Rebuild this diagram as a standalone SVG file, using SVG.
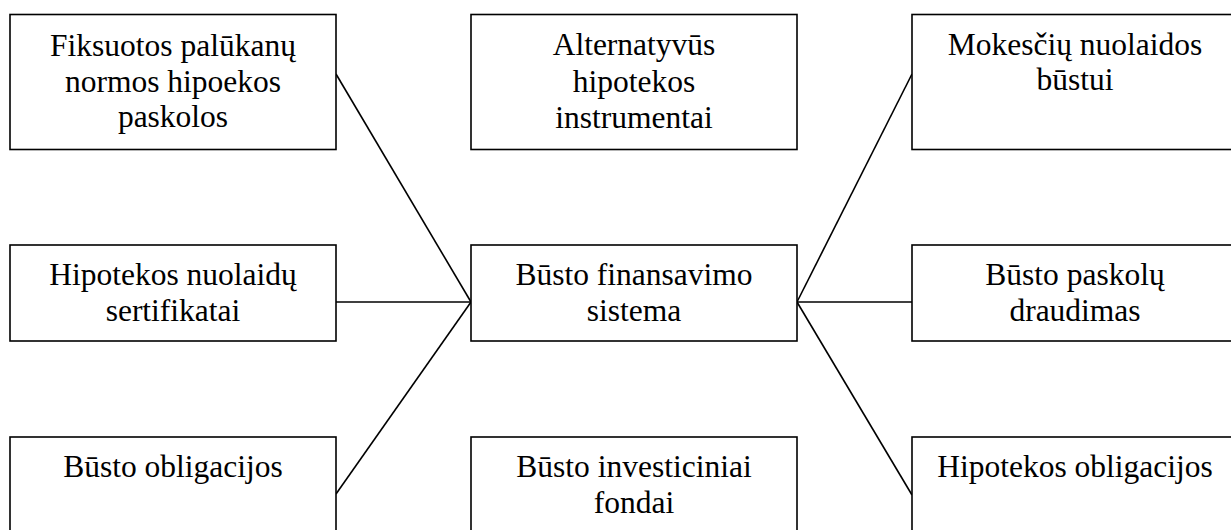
<svg xmlns="http://www.w3.org/2000/svg" width="1231" height="530" viewBox="0 0 1231 530">
<style>
.box{fill:#fff;stroke:#000;stroke-width:1.6}
.t{font-family:"Liberation Serif","Times New Roman",serif;font-size:31.5px;fill:#000;text-anchor:middle}
.c{stroke:#000;stroke-width:1.6;fill:none}
</style>
<rect width="1231" height="530" fill="#fff"/>
<g id="connectors">
<line class="c" x1="336" y1="74" x2="471" y2="302"/>
<line class="c" x1="336" y1="302" x2="471" y2="302"/>
<line class="c" x1="336" y1="494" x2="471" y2="302"/>
<line class="c" x1="797" y1="302" x2="912" y2="74"/>
<line class="c" x1="797" y1="302" x2="912" y2="302"/>
<line class="c" x1="797" y1="302" x2="912" y2="495"/>
</g>
<g id="n1"><rect class="box" x="10" y="14.5" width="326" height="135"/>
<text class="t" x="173" y="56">Fiksuotos palūkanų</text>
<text class="t" x="173" y="92">normos hipoekos</text>
<text class="t" x="173" y="127">paskolos</text></g>
<g id="n2"><rect class="box" x="471" y="14.5" width="326" height="135"/>
<text class="t" x="634" y="55">Alternatyvūs</text>
<text class="t" x="634" y="92">hipotekos</text>
<text class="t" x="634" y="128">instrumentai</text></g>
<g id="n3"><rect class="box" x="912" y="14.5" width="326" height="135"/>
<text class="t" x="1075" y="55">Mokesčių nuolaidos</text>
<text class="t" x="1075" y="90">būstui</text></g>
<g id="n4"><rect class="box" x="10" y="245" width="326" height="96"/>
<text class="t" x="173" y="285">Hipotekos nuolaidų</text>
<text class="t" x="173" y="321">sertifikatai</text></g>
<g id="center"><rect class="box" x="471" y="245" width="326" height="96"/>
<text class="t" x="634" y="285">Būsto finansavimo</text>
<text class="t" x="634" y="321">sistema</text></g>
<g id="n5"><rect class="box" x="912" y="245" width="326" height="96"/>
<text class="t" x="1075" y="285">Būsto paskolų</text>
<text class="t" x="1075" y="321">draudimas</text></g>
<g id="n6"><rect class="box" x="10" y="437" width="326" height="110"/>
<text class="t" x="173" y="477">Būsto obligacijos</text></g>
<g id="n7"><rect class="box" x="471" y="437" width="326" height="110"/>
<text class="t" x="634" y="477">Būsto investiciniai</text>
<text class="t" x="634" y="513">fondai</text></g>
<g id="n8"><rect class="box" x="912" y="437" width="326" height="110"/>
<text class="t" x="1075" y="477">Hipotekos obligacijos</text></g>
</svg>
